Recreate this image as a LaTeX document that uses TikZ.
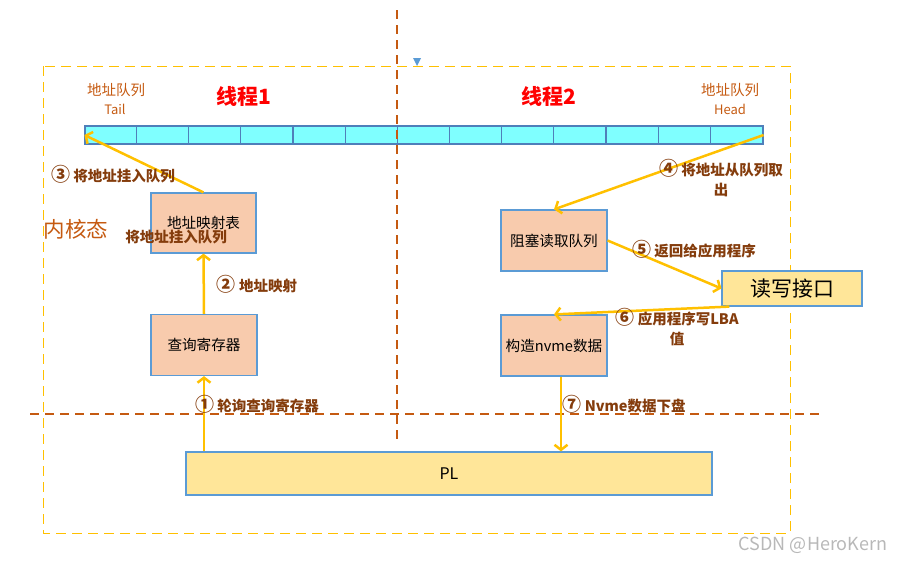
\documentclass[tikz,border=0pt]{standalone}
\usepackage{fontspec}
\setmainfont{Noto Sans CJK SC}
\usetikzlibrary{arrows.meta,calc}
\definecolor{arrowc}{HTML}{FFC000}
\definecolor{boxline}{HTML}{5B9BD5}
\definecolor{procfill}{HTML}{F8CBAD}
\definecolor{iofill}{HTML}{FFE699}
\definecolor{qfill}{HTML}{7FFFFF}
\definecolor{qline}{HTML}{4F7FBA}
\definecolor{labc}{HTML}{843C0C}
\definecolor{orangec}{HTML}{C55A11}
\definecolor{yellowc}{HTML}{FFC000}
\definecolor{wmark}{HTML}{B8B8B8}
\newcommand\circnum[1]{{\fontsize{19}{20}\selectfont #1}}
\begin{document}
\begin{tikzpicture}[x=1pt,y=-1pt,
  procbox/.style={draw=boxline, fill=procfill, line width=1.2pt, minimum width=106pt,
    minimum height=61pt, inner sep=0pt, font=\fontsize{14.6}{17}\selectfont},
  iobox/.style={draw=boxline, fill=iofill, line width=1.2pt, inner sep=0pt},
  lab/.style={text=labc, font=\bfseries\fontsize{14.5}{20}\selectfont, align=center, inner sep=0pt},
  toplab/.style={text=orangec, font=\fontsize{14.5}{19}\selectfont, align=center, inner sep=0pt},
  title/.style={text=red, font=\bfseries\fontsize{21}{24}\selectfont, inner sep=0pt},
  flow/.style={draw=arrowc, line width=2.5pt, -{Straight Barb[length=5pt,width=13pt]}}]
\useasboundingbox (0,0) rectangle (908,563);
% outer dashed frame
\draw[yellowc, line width=1pt, dash pattern=on 10pt off 6pt] (43,66) rectangle (790,533);
% queue
\node[draw=qline, fill=qfill, line width=1.2pt, minimum width=678pt, minimum height=18pt, inner sep=0pt] (q) at (424,135) {};
\foreach \i in {1,...,12}
  \draw[qline, line width=1.2pt] ($(q.north west)+(\i*52.154,0)$) -- ($(q.south west)+(\i*52.154,0)$);
% divider lines
\draw[orangec, line width=1.1pt, dash pattern=on 9pt off 6pt] (397,10) -- (397,440);
\draw[orangec, line width=1.1pt, dash pattern=on 9pt off 6pt] (30,414) -- (822,414);
% small triangle
\fill[boxline] (413,58) -- (421,58) -- (417,66) -- cycle;
% top labels
\node[toplab] (tl) at (116,90) {地址队列};
\node[toplab, font=\fontsize{13}{15}\selectfont] (tt) at (115,109) {Tail};
\node[toplab] (hl) at (730,90) {地址队列};
\node[toplab, font=\fontsize{13}{15}\selectfont] (ht) at (730,109) {Head};
\node[title] (t1) at (244,96) {线程1};
\node[title] (t2) at (549,96) {线程2};
\node[text=orangec, font=\fontsize{21.5}{24}\selectfont, inner sep=0pt] (kern) at (76,229) {内核态};
% boxes
\node[procbox, minimum width=105pt, minimum height=60pt] (map) at (203.5,223) {地址映射表};
\node[procbox] (qry) at (204,345) {查询寄存器};
\node[procbox] (blk) at (554,240.5) {阻塞读取队列};
\node[procbox] (nv) at (554,345.5) {构造nvme数据};
\node[iobox, minimum width=140pt, minimum height=35pt, font=\fontsize{21}{24}\selectfont] (rw) at (792,288.5) {读写接口};
\node[iobox, minimum width=526pt, minimum height=43pt, font=\fontsize{16}{19}\selectfont] (pl) at (449,473.5) {PL};
% arrows
\draw[flow] (map.north) -- (q.west);
\draw[flow] (qry.north) -- (map.south);
\draw[flow] (pl.north -| qry.south) -- (qry.south);
\draw[flow] (q.east) -- (blk.north);
\draw[flow] (blk.east) -- (rw.west);
\draw[flow] ($(rw.south west)+(8,0)$) -- (nv.north);
\coordinate (nvout) at ($(nv.south)+(7,0)$);
\draw[flow] (nvout) -- (nvout |- pl.north);
% labels
\node[lab] (l3) at (113,174) {\circnum{③} 将地址挂入队列};
\node[lab] (l3b) at (176,237) {将地址挂入队列};
\node[lab] (l2) at (257,284) {\circnum{②} 地址映射};
\node[lab] (l1) at (257,404) {\circnum{①} 轮询查询寄存器};
\node[lab, anchor=north] (l4) at (721,159) {\circnum{④} 将地址从队列取\\出};
\node[lab] (l5) at (694,249) {\circnum{⑤} 返回给应用程序};
\node[lab, anchor=north] (l6) at (677,308) {\circnum{⑥} 应用程序写LBA\\值};
\node[lab] (l7) at (624,404) {\circnum{⑦} Nvme数据下盘};
% watermark
\node[text=wmark, font=\fontsize{18}{20}\selectfont, inner sep=0pt] (wm) at (813,545) {CSDN @HeroKern};
\end{tikzpicture}
\end{document}
